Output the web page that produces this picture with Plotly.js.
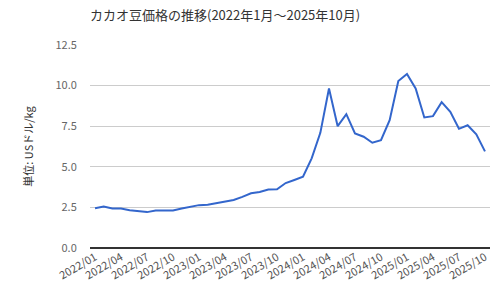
<!DOCTYPE html>
<html>
<head>
<meta charset="utf-8">
<script src="https://cdn.plot.ly/plotly-3.0.1.min.js"></script>
<style>html,body{margin:0;padding:0;background:#fff;}#chart{width:500px;height:300px;}</style>
</head>
<body>
<div id="chart"></div>
<script>
const months = [
  "2022/01","2022/02","2022/03","2022/04","2022/05","2022/06","2022/07","2022/08","2022/09","2022/10","2022/11","2022/12",
  "2023/01","2023/02","2023/03","2023/04","2023/05","2023/06","2023/07","2023/08","2023/09","2023/10","2023/11","2023/12",
  "2024/01","2024/02","2024/03","2024/04","2024/05","2024/06","2024/07","2024/08","2024/09","2024/10","2024/11","2024/12",
  "2025/01","2025/02","2025/03","2025/04","2025/05","2025/06","2025/07","2025/08","2025/09","2025/10"
];
const prices = [
  2.45, 2.55, 2.43, 2.43, 2.33, 2.27, 2.21, 2.31, 2.29, 2.31, 2.43, 2.53,
  2.64, 2.67, 2.78, 2.88, 2.96, 3.15, 3.37, 3.45, 3.60, 3.62, 4.00, 4.19,
  4.39, 5.52, 7.09, 9.82, 7.50, 8.24, 7.06, 6.85, 6.48, 6.64, 7.87, 10.28,
  10.71, 9.82, 8.04, 8.12, 8.98, 8.38, 7.34, 7.56, 7.00, 5.95
];
const tickLabels = ["2022/01","2022/04","2022/07","2022/10","2023/01","2023/04","2023/07","2023/10",
  "2024/01","2024/04","2024/07","2024/10","2025/01","2025/04","2025/07","2025/10"];
const yTicks = [0, 2.5, 5, 7.5, 10, 12.5];

const FONT = '"Noto Sans CJK JP", "Noto Sans", sans-serif';

Plotly.newPlot('chart', [{
  x: months,
  y: prices,
  type: 'scatter',
  mode: 'lines',
  line: {color: '#3366cc', width: 2},
  hoverinfo: 'x+y'
}], {
  width: 500, height: 300,
  margin: {l: 90, r: 10, t: 45, b: 52},
  paper_bgcolor: '#fff', plot_bgcolor: '#fff',
  font: {family: FONT, color: '#666', size: 11},
  title: {
    text: 'カカオ豆価格の推移(2022年1月～2025年10月)',
    font: {family: FONT, size: 13, color: '#333'},
    x: 0, xref: 'paper', xanchor: 'left', y: 0.95, yanchor: 'middle'
  },
  showlegend: false,
  xaxis: {
    type: 'category',
    range: [-0.58, 45.58],
    tickmode: 'array',
    tickvals: tickLabels,
    ticktext: tickLabels,
    tickangle: -30,
    showgrid: false,
    zeroline: false,
    showline: false,
    ticks: '',
    tickfont: {size: 11, color: '#555'}
  },
  yaxis: {
    range: [0, 12.5],
    tickmode: 'array',
    tickvals: yTicks,
    ticktext: yTicks.map(v => v.toFixed(1)),
    showgrid: true,
    gridcolor: '#cccccc',
    zeroline: true,
    zerolinecolor: '#333',
    zerolinewidth: 1.5,
    showline: false,
    ticks: 'outside',
    ticklen: 10,
    tickcolor: 'rgba(0,0,0,0)',
    tickfont: {size: 11, color: '#666'},
    title: {text: '単位: USドル/kg', font: {family: FONT, size: 11, color: '#333'}, standoff: 19}
  }
}, {displayModeBar: false, staticPlot: true});
</script>
</body>
</html>
